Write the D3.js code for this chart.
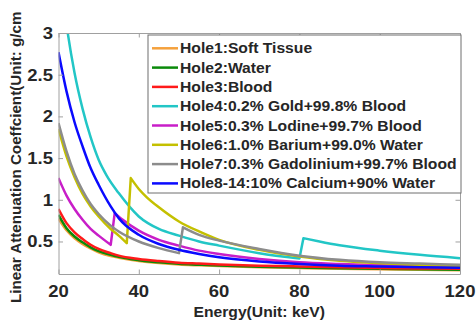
<!DOCTYPE html>
<html>
<head>
<meta charset="utf-8">
<script src="https://cdn.jsdelivr.net/npm/d3@7"></script>
<style>
  body { margin: 0; background: #fff; }
  text { font-family: "Liberation Sans", Arial, sans-serif; font-weight: bold; fill: #262626; }
</style>
</head>
<body>
<div id="chart"></div>
<script>
// energy grid (keV) shared by the smooth materials
const energy = [20, 22, 24, 26, 28, 30, 33, 35, 40, 45, 50, 55, 60, 70, 80, 90, 100, 110, 120];
const softTissue = [0.78, 0.64, 0.545, 0.475, 0.42, 0.375, 0.33, 0.31, 0.27, 0.245, 0.228, 0.218, 0.209, 0.196, 0.186, 0.178, 0.171, 0.165, 0.16];
const water = [0.82, 0.66, 0.56, 0.49, 0.43, 0.385, 0.34, 0.315, 0.275, 0.25, 0.232, 0.222, 0.212, 0.198, 0.188, 0.18, 0.173, 0.167, 0.162];
const blood = [0.89, 0.72, 0.61, 0.53, 0.46, 0.41, 0.36, 0.33, 0.29, 0.265, 0.245, 0.235, 0.225, 0.21, 0.20, 0.19, 0.183, 0.177, 0.172];
const calcium = [2.77, 2.30, 1.93, 1.64, 1.38, 1.18, 0.92, 0.78, 0.58, 0.47, 0.40, 0.35, 0.31, 0.26, 0.23, 0.21, 0.20, 0.19, 0.185];

// contrast agents have a K-edge, so they carry their own grid
const goldEnergy = [20, 22, 24, 26, 28, 30, 32, 35, 40, 45, 50, 55, 60, 70, 80, 81, 85, 90, 100, 110, 120];
const gold = [3.9, 3.1, 2.52, 2.09, 1.75, 1.48, 1.29, 1.08, 0.80, 0.65, 0.57, 0.50, 0.45, 0.36, 0.295, 0.54, 0.50, 0.455, 0.39, 0.34, 0.30];
const iodineEnergy = [20, 22, 24, 26, 28, 30, 33, 34, 36, 40, 45, 50, 55, 60, 70, 80, 90, 100, 110, 120];
const iodine = [1.26, 1.05, 0.89, 0.76, 0.65, 0.57, 0.46, 0.84, 0.76, 0.63, 0.52, 0.45, 0.39, 0.35, 0.29, 0.25, 0.23, 0.215, 0.205, 0.195];
const bariumEnergy = [20, 22, 24, 26, 28, 30, 33, 35, 37, 38, 40, 42, 45, 50, 55, 60, 70, 80, 90, 100, 110, 120];
const barium = [1.85, 1.52, 1.27, 1.07, 0.92, 0.80, 0.65, 0.57, 0.48, 1.26, 1.13, 1.03, 0.91, 0.74, 0.62, 0.52, 0.40, 0.32, 0.27, 0.24, 0.22, 0.205];
const gadoliniumEnergy = [20, 22, 24, 26, 28, 30, 33, 35, 40, 45, 50, 51, 55, 60, 70, 80, 90, 100, 110, 120];
const gadolinium = [1.92, 1.58, 1.31, 1.11, 0.95, 0.83, 0.69, 0.62, 0.50, 0.42, 0.36, 0.67, 0.58, 0.51, 0.41, 0.33, 0.28, 0.25, 0.235, 0.22];

const labels = [
  'Hole1:Soft Tissue',
  'Hole2:Water',
  'Hole3:Blood',
  'Hole4:0.2% Gold+99.8% Blood',
  'Hole5:0.3% Lodine+99.7% Blood',
  'Hole6:1.0% Barium+99.0% Water',
  'Hole7:0.3% Gadolinium+99.7% Blood',
  'Hole8-14:10% Calcium+90% Water'
];
const colors = ['#f5a13c', '#0a8a0a', '#ff1a1a', '#22c6c6', '#c81ec8', '#c4c000', '#8c8c8c', '#0a0aff'];
const xTicks = [20, 40, 60, 80, 100, 120];
const yTicks = [0.5, 1, 1.5, 2, 2.5, 3];

const series = [
  [energy, softTissue], [energy, water], [energy, blood], [goldEnergy, gold],
  [iodineEnergy, iodine], [bariumEnergy, barium], [gadoliniumEnergy, gadolinium], [energy, calcium]
].map(([e, v], i) => ({
  name: labels[i],
  color: colors[i],
  values: e.map((d, j) => ({ energy: d, value: v[j] }))
}));

const W = 476, H = 320;
const margin = { top: 33, right: 16, bottom: 46, left: 58.5 };
const sx = 1.12; // the reference text is a little wider than it is tall

const svg = d3.select('#chart').append('svg').attr('width', W).attr('height', H);

const x = d3.scaleLinear().domain([20, 120]).range([margin.left, W - margin.right]);
const y = d3.scaleLinear().domain([0.11, 3]).range([H - margin.bottom, margin.top]);

svg.append('clipPath').attr('id', 'plot')
  .append('rect')
  .attr('x', x(20)).attr('y', y(3))
  .attr('width', x(120) - x(20)).attr('height', y(0.11) - y(3));

const line = d3.line()
  .curve(d3.curveMonotoneX)
  .x(d => x(d.energy))
  .y(d => y(d.value));

// split a series where it jumps up (the K-edge) and join the parts with a straight step
function edgePath(values) {
  const parts = [[values[0]]];
  for (let i = 1; i < values.length; i++) {
    if (values[i].value > values[i - 1].value) parts.push([]);
    parts[parts.length - 1].push(values[i]);
  }
  return parts.map((p, i) => {
    const d = line(p);
    return i === 0 ? d : 'L' + d.slice(1);
  }).join('');
}

svg.append('g')
  .attr('clip-path', 'url(#plot)')
  .selectAll('path')
  .data(series)
  .enter()
  .append('path')
  .attr('d', d => edgePath(d.values))
  .attr('fill', 'none')
  .attr('stroke', d => d.color)
  .attr('stroke-width', (d, i) => i === 0 ? 3.2 : 2.5)
  .attr('stroke-linejoin', 'round');

// box with inward ticks on all four sides
const axisColor = '#a0a0a0';
const tickLen = 4.5;
const axisBottom = svg.append('g').attr('transform', `translate(0,${y(0.11)})`)
  .call(d3.axisBottom(x).tickValues(xTicks).tickSizeInner(-tickLen).tickSizeOuter(0).tickFormat(''));
const axisTop = svg.append('g').attr('transform', `translate(0,${y(3)})`)
  .call(d3.axisTop(x).tickValues(xTicks).tickSizeInner(-tickLen).tickSizeOuter(0).tickFormat(''));
const axisLeft = svg.append('g').attr('transform', `translate(${x(20)},0)`)
  .call(d3.axisLeft(y).tickValues(yTicks).tickSizeInner(-tickLen).tickSizeOuter(0).tickFormat(''));
const axisRight = svg.append('g').attr('transform', `translate(${x(120)},0)`)
  .call(d3.axisRight(y).tickValues(yTicks).tickSizeInner(-tickLen).tickSizeOuter(0).tickFormat(''));
[axisBottom, axisTop, axisLeft, axisRight].forEach(a => {
  a.selectAll('path, line').attr('stroke', axisColor).attr('stroke-width', 1);
});

// tick labels
svg.append('g').selectAll('text')
  .data(xTicks)
  .enter()
  .append('text')
  .attr('transform', d => `translate(${x(d)},${y(0.11) + 22.5}) scale(${sx},1)`)
  .attr('text-anchor', 'middle')
  .style('font-size', '16.5px')
  .text(d => d);

svg.append('g').selectAll('text')
  .data(yTicks)
  .enter()
  .append('text')
  .attr('transform', d => `translate(${x(20) - 5.5},${y(d)}) scale(${sx},1)`)
  .attr('text-anchor', 'end')
  .attr('dy', '0.36em')
  .style('font-size', '16.5px')
  .text(d => d);

// axis titles
svg.append('text')
  .attr('transform', `translate(${(x(20) + x(120)) / 2},${H - 3.5}) scale(${sx},1)`)
  .attr('text-anchor', 'middle')
  .style('font-size', '14px')
  .text('Energy(Unit: keV)');

svg.append('text')
  .attr('transform', `translate(20.5,303) rotate(-90) scale(1.17,${sx})`)
  .attr('text-anchor', 'start')
  .style('font-size', '13px')
  .text('Linear Attenuation Coeffcient(Unit: g/cm');

// legend
const legend = svg.append('g').attr('transform', 'translate(148,35)');
legend.append('rect')
  .attr('width', 313).attr('height', 158)
  .attr('fill', '#fff')
  .attr('stroke', '#6e6e6e')
  .attr('stroke-width', 1);

const rows = legend.selectAll('g.row')
  .data(series)
  .enter()
  .append('g')
  .attr('class', 'row')
  .attr('transform', (d, i) => `translate(0,${13.3 + i * 19.3})`);

rows.append('line')
  .attr('x1', 4).attr('x2', 30)
  .attr('stroke', d => d.color)
  .attr('stroke-width', 2.5);

rows.append('text')
  .attr('transform', `translate(32,0) scale(${sx},1)`)
  .attr('dy', '0.36em')
  .style('font-size', '14px')
  .text(d => d.name);
</script>
</body>
</html>
